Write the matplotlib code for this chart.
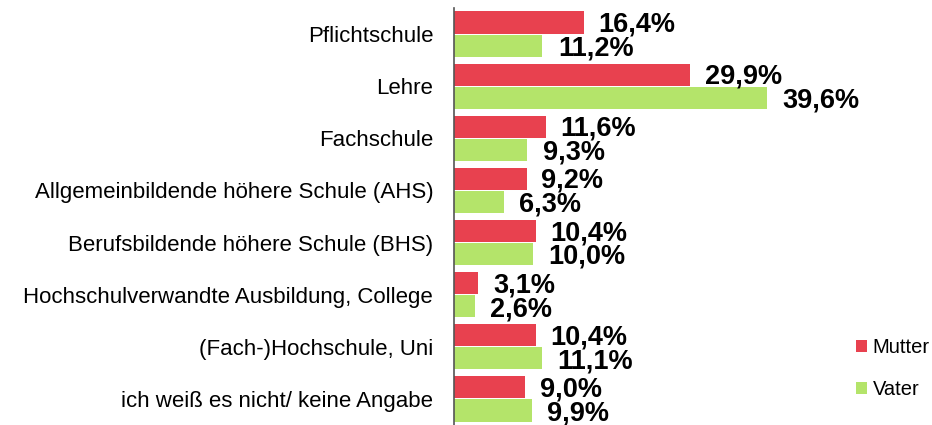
import matplotlib
matplotlib.use("Agg")
import matplotlib.pyplot as plt
import numpy as np

categories = ["Pflichtschule", "Lehre", "Fachschule",
              "Allgemeinbildende höhere Schule (AHS)",
              "Berufsbildende höhere Schule (BHS)",
              "Hochschulverwandte Ausbildung, College",
              "(Fach-)Hochschule, Uni",
              "ich weiß es nicht/ keine Angabe"]
mutter = [16.4, 29.9, 11.6, 9.2, 10.4, 3.1, 10.4, 9.0]
vater = [11.2, 39.6, 9.3, 6.3, 10.0, 2.6, 11.1, 9.9]
series_names = ["Mutter", "Vater"]
colors = ["#E8414F", "#B4E46A"]

plt.rcParams['font.family'] = ['Liberation Sans', 'DejaVu Sans']

fig = plt.figure(figsize=(9.32, 4.25), dpi=100)
ax = fig.add_axes([454/932, 0.0, 395/932, 1 - 8/425])

n = len(categories)
y = np.arange(n)
h = 0.423
gap = 0.02
ym = y - (h/2 + gap/2)
yv = y + (h/2 + gap/2)
ax.barh(ym, mutter, height=h, color=colors[0], label=series_names[0])
ax.barh(yv, vater, height=h, color=colors[1], label=series_names[1])

def fmt(v):
    return f"{v:.1f}%".replace(".", ",")

for yy, v in zip(ym, mutter):
    ax.annotate(fmt(v), (v, yy), xytext=(10.5, -1.5), textcoords="offset points",
                ha="left", va="center", fontsize=19.5, fontweight="bold")
for yy, v in zip(yv, vater):
    ax.annotate(fmt(v), (v, yy), xytext=(11, -2), textcoords="offset points",
                ha="left", va="center", fontsize=19.5, fontweight="bold")

ax.set_xlim(0, 50)
ax.set_ylim(n - 0.5, -0.5)
ax.set_yticks(y)
ax.set_yticklabels(categories, fontsize=16)
ax.tick_params(axis="y", length=0, pad=15)
ax.set_xticks([])
for s in ["top", "right", "bottom"]:
    ax.spines[s].set_visible(False)
ax.spines["left"].set_color("#555555")
ax.spines["left"].set_linewidth(1.2)

handles, labels = ax.get_legend_handles_labels()
fig.legend(handles, labels, loc="center left", bbox_to_anchor=(0.918, 0.133),
           frameon=False, fontsize=14.5, handlelength=0.55, handleheight=0.55,
           handletextpad=0.3, labelspacing=1.15, borderpad=0, borderaxespad=0)

fig.savefig("out.png", dpi=100)
